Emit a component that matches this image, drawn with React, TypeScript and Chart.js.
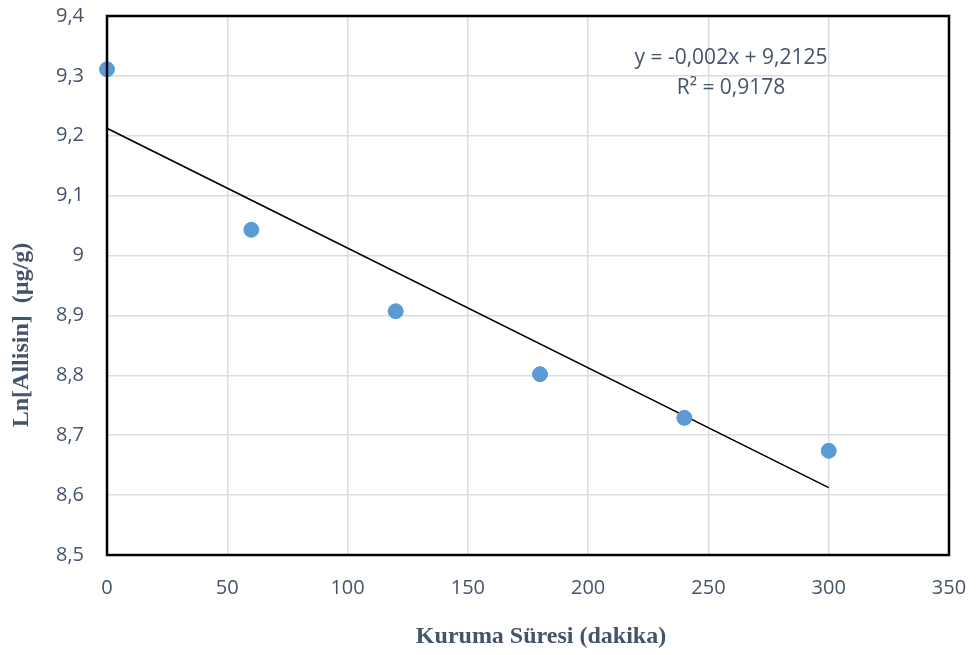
import React, { useEffect, useRef } from "react";
import { Chart, registerables } from "chart.js";

Chart.register(...registerables);

// Data
const dryingTimes = [0, 60, 120, 180, 240, 300];
const lnAllisin = [9.311, 9.043, 8.907, 8.802, 8.729, 8.674];

// Trendline from the printed equation y = -0,002x + 9,2125
const trendSlope = -0.002;
const trendIntercept = 9.2125;
const trendX = [0, 300];

const xTicks = [0, 50, 100, 150, 200, 250, 300, 350];
const yTicks = [8.5, 8.6, 8.7, 8.8, 8.9, 9.0, 9.1, 9.2, 9.3, 9.4];

const equationText = "y = -0,002x + 9,2125";
const r2Text = "R² = 0,9178";
const xTitle = "Kuruma Süresi (dakika)";
const yTitle = "Ln[Allisin]  (µg/g)";

const TEXT_COLOR = "#44546A";
const TICK_FONT = { family: "'Open Sans', sans-serif", size: 20 };

const fmt = (v: number) => {
  const n = Number(Number(v).toFixed(1));
  return String(n).replace(".", ",");
};

const decorPlugin = {
  id: "decor",
  afterDraw(chart: any) {
    const { ctx, chartArea } = chart;
    ctx.save();
    // plot border
    ctx.strokeStyle = "#000000";
    ctx.lineWidth = 2.5;
    ctx.strokeRect(chartArea.left, chartArea.top, chartArea.right - chartArea.left, chartArea.bottom - chartArea.top);

    // trendline label
    ctx.fillStyle = TEXT_COLOR;
    ctx.font = "21px 'Open Sans', sans-serif";
    ctx.textAlign = "center";
    ctx.textBaseline = "middle";
    ctx.fillText(equationText, 731, 58);
    ctx.fillText(r2Text, 731, 88);

    // axis titles
    ctx.font = "bold 24px 'Liberation Serif', 'Times New Roman', serif";
    ctx.fillText(xTitle, 541, 637);
    ctx.translate(22, 335);
    ctx.rotate(-Math.PI / 2);
    ctx.fillText(yTitle, 0, 0);
    ctx.restore();
  },
};

export default function App() {
  const canvasRef = useRef<HTMLCanvasElement | null>(null);

  useEffect(() => {
    if (!canvasRef.current) return;
    const chart = new Chart(canvasRef.current, {
      type: "scatter",
      data: {
        datasets: [
          {
            label: "Ln[Allisin]",
            data: dryingTimes.map((x, i) => ({ x, y: lnAllisin[i] })),
            backgroundColor: "#5B9BD5",
            borderColor: "#5B9BD5",
            borderWidth: 1,
            pointRadius: 7.5,
            clip: false,
            order: 1,
          } as any,
          {
            label: "Trend",
            type: "line",
            data: trendX.map((x) => ({ x, y: trendIntercept + trendSlope * x })),
            borderColor: "#000000",
            borderWidth: 1.5,
            pointRadius: 0,
            showLine: true,
            fill: false,
            order: 2,
          } as any,
        ],
      },
      options: {
        animation: false,
        responsive: true,
        maintainAspectRatio: false,
        layout: { padding: { left: 0, top: 16, right: 28, bottom: 0 } },
        plugins: {
          legend: { display: false },
          tooltip: { enabled: false },
        },
        scales: {
          x: {
            type: "linear",
            min: 0,
            max: 350,
            afterBuildTicks: (axis: any) => {
              axis.ticks = xTicks.map((v) => ({ value: v }));
            },
            afterFit: (axis: any) => {
              axis.height = 100;
              axis.paddingLeft = 0;
              axis.paddingRight = 0;
              axis.paddingTop = 0;
              axis.paddingBottom = 0;
            },
            ticks: {
              color: TEXT_COLOR,
              font: TICK_FONT,
              padding: 21,
              maxRotation: 0,
              callback: (v: any) => String(v),
            },
            grid: { color: "#D9DDE3", lineWidth: 1.5, drawTicks: false },
            border: { display: false },
          },
          y: {
            type: "linear",
            min: 8.5,
            max: 9.4,
            afterBuildTicks: (axis: any) => {
              axis.ticks = yTicks.map((v) => ({ value: v }));
            },
            afterFit: (axis: any) => {
              axis.width = 107;
              axis.paddingLeft = 0;
              axis.paddingRight = 0;
              axis.paddingTop = 0;
              axis.paddingBottom = 0;
            },
            ticks: {
              color: TEXT_COLOR,
              font: TICK_FONT,
              padding: 23,
              callback: (v: any) => fmt(v),
            },
            grid: { color: "#D9DDE3", lineWidth: 1.5, drawTicks: false },
            border: { display: false },
          },
        },
      },
      plugins: [decorPlugin],
    });
    return () => chart.destroy();
  }, []);

  return (
    <div style={{ position: "fixed", left: 0, top: 0, width: 977, height: 655, background: "#fff" }}>
      <canvas ref={canvasRef} />
    </div>
  );
}
